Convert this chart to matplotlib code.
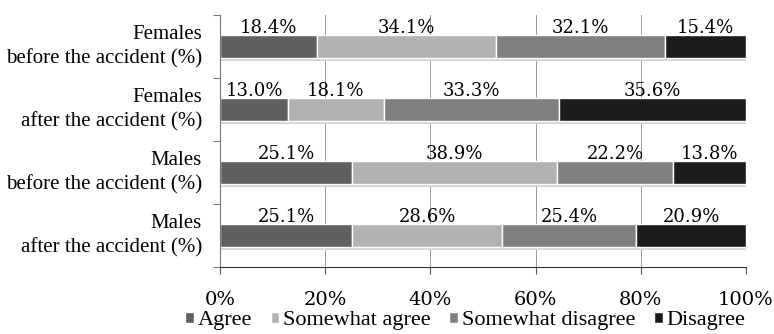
import matplotlib.pyplot as plt
import numpy as np

# survey responses per group, in percent
groups = [
    "Females\nbefore the accident (%)",
    "Females\nafter the accident (%)",
    "Males\nbefore the accident (%)",
    "Males\nafter the accident (%)",
]
responses = ["Agree", "Somewhat agree", "Somewhat disagree", "Disagree"]
agree = [18.4, 13.0, 25.1, 25.1]
somewhat_agree = [34.1, 18.1, 38.9, 28.6]
somewhat_disagree = [32.1, 33.3, 22.2, 25.4]
disagree = [15.4, 35.6, 13.8, 20.9]

colors = ["#606060", "#b2b2b2", "#808080", "#1c1c1c"]

plt.rcParams["font.family"] = ["Liberation Serif", "DejaVu Serif"]

fig = plt.figure(figsize=(7.74, 3.34), dpi=100)
ax = fig.add_axes([220 / 774, 1 - 267 / 334, 526 / 774, 252 / 334])

series = [agree, somewhat_agree, somewhat_disagree, disagree]
y = np.arange(len(groups))
bar_h = 0.38
left = np.zeros(len(groups))

# vertical grid behind the bars
ax.set_axisbelow(True)
ax.grid(axis="x", color="#999999", linewidth=0.7)

# soft shadow under each bar
totals = np.sum(series, axis=0)
ax.barh(y + 0.035, totals, height=bar_h, left=0, color="#d4d4d4",
        linewidth=0, zorder=1)

for vals, name, col in zip(series, responses, colors):
    vals = np.array(vals)
    ax.barh(y, vals, height=bar_h, left=left, color=col, edgecolor="white",
            linewidth=1.0, label=name, zorder=2)
    for yi, l, v in zip(y, left, vals):
        ax.text(l + v / 2, yi - 0.30, f"{v:.1f}%", ha="center", va="center",
                fontsize=13, family=["DejaVu Serif"], zorder=3)
    left += vals

ax.set_xlim(0, 100)
ax.set_ylim(len(groups) - 0.5, -0.5)
ax.set_xticks(np.arange(0, 101, 20))
ax.set_xticklabels([f"{t}%" for t in range(0, 101, 20)], fontsize=14,
                   family=["DejaVu Serif"])
ax.tick_params(axis="x", length=5, width=0.8, color="#555555", pad=12)

# category labels between the major ticks, set a little above the bar centre
ax.set_yticks(np.arange(-0.5, len(groups), 1))
ax.set_yticklabels([])
ax.set_yticks(y - 0.07, minor=True)
ax.set_yticklabels(groups, minor=True, fontsize=15, linespacing=1.3)
ax.tick_params(axis="y", which="major", length=5, width=0.8, color="#777777")
ax.tick_params(axis="y", which="minor", length=0, pad=13)

for side in ["top", "right"]:
    ax.spines[side].set_visible(False)
ax.spines["left"].set_color("#777777")
ax.spines["bottom"].set_color("#333333")

ax.legend(loc="center", bbox_to_anchor=(465 / 774, 1 - 321 / 334),
          bbox_transform=fig.transFigure, ncol=4, frameon=False,
          fontsize=16, handlelength=0.4, handleheight=0.4,
          handletextpad=0.15, columnspacing=0.85, borderpad=0)

fig.savefig("out.png", dpi=100)
